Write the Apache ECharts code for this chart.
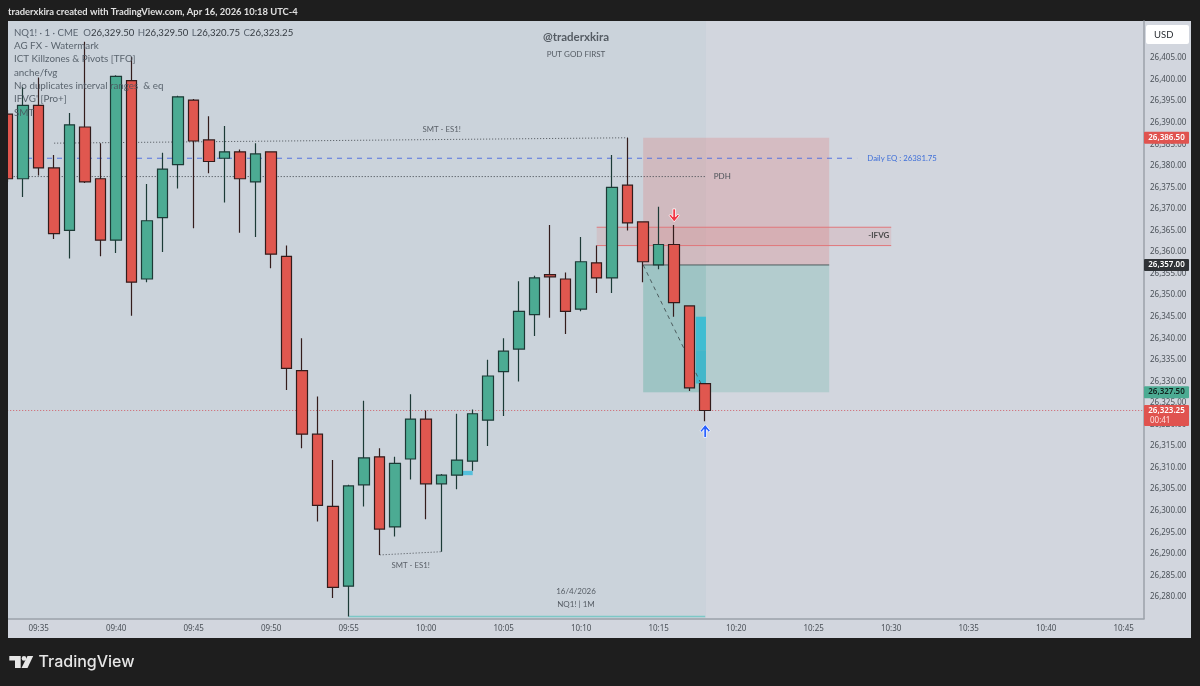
<!DOCTYPE html>
<html>
<head>
<meta charset="utf-8">
<title>NQ1! 1m</title>
<style>
  html, body { margin: 0; padding: 0; background: #1e1e1e; }
  #chart { width: 1200px; height: 686px; }
</style>
<script src="https://cdn.jsdelivr.net/npm/echarts@6/dist/echarts.min.js"></script>
</head>
<body>
<div id="chart"></div>
<script>
// minutes since midnight, 09:33 is the first bar
const firstMinute = 573
// one row per bar, [open, close, low, high]
const opens = [26392, 26377, 26394, 26379.5, 26365, 26389, 26377, 26362.75, 26399.75, 26353.75,
  26368, 26380.25, 26395.25, 26386, 26381.75, 26383.25, 26376.25, 26383.25, 26359, 26332.5,
  26317.75, 26301, 26282.5, 26306, 26312.5, 26296.25, 26312, 26321.25, 26306.25, 26308.25,
  26311.5, 26321, 26332.25, 26337.5, 26345.5, 26354.75, 26353.75, 26346.75, 26357.5, 26354,
  26375.5, 26367, 26357, 26361.75, 26347.5, 26329.5]
const closes = [26377, 26394, 26379.5, 26364.25, 26389.5, 26376.25, 26362.75, 26400.75, 26353, 26367.25,
  26379.25, 26396, 26385.75, 26381, 26383.25, 26377, 26382.75, 26359.5, 26333, 26317.75,
  26301.25, 26282.25, 26305.75, 26312.25, 26295.75, 26311, 26321.25, 26306.25, 26308.25, 26311.75,
  26322.5, 26331.25, 26337, 26346.25, 26354, 26354.25, 26346.25, 26357.75, 26354, 26375,
  26366.75, 26357.75, 26361.75, 26348.25, 26328.5, 26323.25]
const lows = [26376.25, 26372.75, 26377.75, 26363, 26358.5, 26376, 26359, 26359.75, 26345.25, 26353,
  26360, 26374.75, 26365.5, 26378.25, 26371.5, 26364.5, 26363.5, 26356.25, 26328, 26314.5,
  26297.5, 26279.75, 26275.5, 26301, 26289.75, 26294, 26307.25, 26298, 26290.5, 26305,
  26309.25, 26315, 26322, 26330, 26340.5, 26344.75, 26341, 26346.25, 26350.5, 26350.5,
  26365, 26353, 26356, 26345, 26327.75, 26320.75]
const highs = [26393, 26398.25, 26400.5, 26382.5, 26392.25, 26408.75, 26385.25, 26401, 26405.25, 26375.75,
  26383, 26396.25, 26395.5, 26391.5, 26389.25, 26383.75, 26385.25, 26383.25, 26361.5, 26340,
  26326.5, 26311.75, 26306, 26325.5, 26314.5, 26312.5, 26327, 26323.25, 26308.5, 26322.5,
  26323.5, 26335, 26340, 26353.25, 26354.5, 26366.25, 26355.25, 26363.5, 26361.5, 26382.5,
  26386.5, 26367, 26370.5, 26366.25, 26347.5, 26329.5]

const priceTicks = [26280, 26285, 26290, 26295, 26300, 26305, 26310, 26315, 26320, 26325, 26330, 26335,
  26340, 26345, 26350, 26355, 26360, 26365, 26370, 26375, 26380, 26385, 26390, 26395, 26400, 26405]
const timeTicks = [575, 580, 585, 590, 595, 600, 605, 610, 615, 620, 625, 630, 635, 640, 645]

// price tags on the right scale
const tagPrices = [26386.5, 26357, 26327.5, 26323.25]
const tagLabels = ['26,386.50', '26,357.00', '26,327.50', '26,323.25']

// visible range of the axes
const minMinute = 573.02
const maxMinute = 646.31
const minPrice = 26275.01
const maxPrice = 26413.58

// drawings, [minute, price]
const smtTop = [[576, 26385.25], [613, 26386.5]]
const smtBottom = [[597, 26289.75], [601, 26290.5]]
const dailyEq = [[573.6, 26381.75], [627.8, 26381.75]]
const pdh = [[573, 26377.5], [618, 26377.5]]
const entryLine = [[614, 26357], [626, 26357]]
const tradePath = [[614, 26357], [618, 26327.5]]
const lowLine = [[595, 26275.5], [618, 26275.5]]
const lastLine = [[572, 26323.25], [647, 26323.25]]
const ifvgTop = [[611, 26365.75], [630, 26365.75]]
const ifvgBottom = [[611, 26361.5], [630, 26361.5]]
// zones, [from minute, to minute, low price, high price]
const sessionZone = [[minMinute, 618.05, minPrice, maxPrice]]
const stopZone = [[614, 626, 26357, 26386.5]]
const targetZone = [[614, 626, 26327.5, 26357]]
const targetInner = [[614, 618.05, 26327.5, 26357]]
const ifvgZone = [[611, 630, 26361.5, 26365.75]]
const fvgUpper = [[617.4, 618.05, 26337.25, 26345]]
const fvgLower = [[617.4, 618.05, 26329.5, 26337.25]]
const fvgSmall = [[602.35, 603, 26308.25, 26309.25]]
const downArrows = [[616, 26368.5]]
const upArrows = [[618, 26318.5]]

const legendLines = ['AG FX - Watermark', 'ICT Killzones & Pivots [TFO]', 'anche/fvg',
  'No duplicates interval ranges  & eq', "IFVG' [Pro+]", 'SMT']

const FONT = '"Noto Sans", sans-serif'
const TEXT_FONT = 'Lato, sans-serif'
const DARK = '#1e1e1e'
const PANEL = '#d2d6de'
const AXIS_TEXT = '#4b5158'
const UP = '#4cab93'
const DOWN = '#e0574f'
const tagColors = [['#e0534f', '#ffffff'], ['#2f3236', '#ffffff'], ['#4cab93', '#10201c'], ['#e0534f', '#ffffff']]

function pad(n) {
    return (n < 10 ? '0' : '') + n
}

function zoneSeries(rows, fill, z) {
    return {
        type: 'custom',
        silent: true,
        z: z,
        data: rows,
        renderItem: function (params, api) {
            let a = api.coord([api.value(0), api.value(3)])
            let b = api.coord([api.value(1), api.value(2)])
            return {
                type: 'rect',
                shape: {x: a[0], y: a[1], width: b[0] - a[0], height: b[1] - a[1]},
                style: {fill: fill}
            }
        },
        encode: {x: [0, 1], y: [2, 3]}
    }
}

function lineSeries(points, color, width, type, z) {
    return {
        type: 'line',
        silent: true,
        z: z,
        data: points,
        showSymbol: false,
        symbol: 'none',
        lineStyle: {color: color, width: width, type: type}
    }
}

function noteSeries(minute, price, label, color, size, weight) {
    return {
        type: 'custom',
        silent: true,
        z: 6,
        data: [[minute, price]],
        renderItem: function (params, api) {
            let p = api.coord([api.value(0), api.value(1)])
            return {
                type: 'text',
                x: p[0],
                y: p[1],
                style: {
                    text: label, fill: color, align: 'center', verticalAlign: 'middle',
                    font: weight + ' ' + size + 'px ' + TEXT_FONT
                }
            }
        }
    }
}

function arrowSeries(points, symbol, color) {
    return {
        type: 'scatter',
        silent: true,
        z: 7,
        data: points,
        symbol: symbol,
        symbolSize: [10, 13],
        itemStyle: {color: color, borderColor: '#ffffff', borderWidth: 0.8, opacity: 1}
    }
}

// price tags sit on the scale, outside the grid
const tagSeries = {
    type: 'custom',
    silent: true,
    z: 8,
    data: tagPrices.map(function (p) { return [646, p] }),
    renderItem: function (params, api) {
        let i = params.dataIndex
        let y = api.coord([646, api.value(1)])[1]
        let last = i === tagPrices.length - 1
        let children = [{
            type: 'rect',
            shape: {x: 1144, y: last ? y - 5.5 : y - 6, width: 45, height: last ? 21 : 12, r: 1},
            style: {fill: tagColors[i][0]}
        }, {
            type: 'text',
            x: 1166.5,
            y: y,
            style: {
                text: tagLabels[i], fill: tagColors[i][1], align: 'center', verticalAlign: 'middle',
                font: '600 8px ' + FONT
            }
        }]
        if (last) {
            children.push({
                type: 'text',
                x: 1150,
                y: y + 10,
                style: {text: '00:41', fill: '#ffe2e0', align: 'left', verticalAlign: 'middle', font: '8px ' + FONT}
            })
        }
        return {type: 'group', children: children}
    }
}

function overlayText(x, y, text, size, color, align, weight, family) {
    return {
        type: 'text',
        x: x,
        y: y,
        z: 20,
        silent: true,
        style: {
            text: text, fill: color, align: align, verticalAlign: 'middle',
            font: (weight || 400) + ' ' + size + 'px ' + (family || TEXT_FONT)
        }
    }
}

let legendRows = legendLines.map(function (line, i) {
    return overlayText(14, 46 + i * 13.3, line, 9.8, 'rgba(74,84,94,0.88)', 'left')
})

let myChart = echarts.init(document.getElementById('chart'), null, {renderer: 'canvas'})
myChart.setOption({
    animation: false,
    backgroundColor: DARK,
    grid: {
        show: true, left: 8, top: 21, width: 1136, height: 597.5,
        backgroundColor: PANEL, borderWidth: 0
    },
    xAxis: {
        type: 'value',
        min: minMinute,
        max: maxMinute,
        splitLine: {show: false},
        axisTick: {show: false},
        axisLine: {onZero: false, lineStyle: {color: '#9ba1a9', width: 1.5}},
        axisLabel: {
            customValues: timeTicks,
            color: AXIS_TEXT,
            fontSize: 8,
            fontFamily: FONT,
            margin: 6,
            formatter: function (v) {
                return pad(Math.floor(v / 60)) + ':' + pad(Math.round(v % 60))
            }
        }
    },
    yAxis: {
        type: 'value',
        position: 'right',
        min: minPrice,
        max: maxPrice,
        splitLine: {show: false},
        axisTick: {show: false},
        axisLine: {show: true, onZero: false, lineStyle: {color: '#9ba1a9', width: 1.5}},
        axisLabel: {
            customValues: priceTicks,
            color: AXIS_TEXT,
            fontSize: 8,
            fontFamily: FONT,
            margin: 6,
            formatter: function (v) {
                return v.toLocaleString('en-US', {minimumFractionDigits: 2, maximumFractionDigits: 2})
            }
        }
    },
    series: [
        zoneSeries(sessionZone, 'rgba(190,205,215,0.32)', 0),
        zoneSeries(stopZone, 'rgba(222,120,120,0.27)', 1),
        zoneSeries(targetZone, 'rgba(70,170,150,0.22)', 1),
        zoneSeries(targetInner, 'rgba(70,170,150,0.14)', 1),
        zoneSeries(ifvgZone, 'rgba(222,110,110,0.16)', 1),
        lineSeries(ifvgTop, '#e0777a', 1, 'solid', 2),
        lineSeries(ifvgBottom, '#e0777a', 1, 'solid', 2),
        lineSeries(entryLine, '#4c5c5e', 1, 'solid', 2),
        lineSeries(dailyEq, '#5572e0', 1, [5, 5], 2),
        lineSeries(pdh, '#3c4248', 1, [1, 2], 2),
        lineSeries(smtTop, '#4c5258', 1, [1, 2], 2),
        lineSeries(smtBottom, '#4c5258', 1, [1, 2], 2),
        lineSeries(lastLine, '#d0606a', 1, [1, 2], 3),
        lineSeries(lowLine, '#7cc8c6', 1.5, 'solid', 3),
        lineSeries(tradePath, '#4c5c5e', 1, [4, 4], 3),
        zoneSeries(fvgUpper, '#40bdd2', 3),
        zoneSeries(fvgLower, '#43b7ca', 3),
        zoneSeries(fvgSmall, '#55c0dc', 3),
        {
            type: 'candlestick',
            z: 5,
            silent: true,
            barWidth: 11,
            data: opens.map(function (o, i) {
                return [firstMinute + i, o, closes[i], lows[i], highs[i]]
            }),
            encode: {x: 0, y: [1, 2, 3, 4]},
            itemStyle: {
                color: UP,
                color0: DOWN,
                borderColor: '#1c3a36',
                borderColor0: '#331c1c',
                borderColorDoji: '#331c1c',
                borderWidth: 1.2
            }
        },
        noteSeries(601, 26388.5, 'SMT - ES1!', '#5a6068', 7.8, 400),
        noteSeries(599, 26287.4, 'SMT - ES1!', '#5a6068', 7.8, 400),
        noteSeries(630.7, 26381.75, 'Daily EQ : 26381.75', '#3f6fd8', 7.8, 400),
        noteSeries(619.1, 26377.5, 'PDH', '#4c5258', 8, 400),
        noteSeries(629.2, 26363.75, '-IFVG', '#4c4c4c', 8, 700),
        arrowSeries(downArrows, 'path://M3.5 0h3v7l2.5-2.5 1.5 1.5-5.5 5.5-5.5-5.5 1.5-1.5 2.5 2.5z', '#f23645'),
        arrowSeries(upArrows, 'path://M3.5 12h3V5l2.5 2.5 1.5-1.5L5 .5-.5 6 1 7.5 3.5 5z', '#2962ff'),
        tagSeries
    ],
    graphic: [
        {type: 'rect', z: -1, silent: true, shape: {x: 8, y: 21, width: 1183, height: 617}, style: {fill: PANEL}},
        // the first bar is cut by the chart frame
        {type: 'rect', z: 15, silent: true, shape: {x: 0, y: 21, width: 8, height: 617}, style: {fill: DARK}},
        overlayText(8, 11.5, 'traderxkira created with TradingView.com, Apr 16, 2026 10:18 UTC-4', 9.4, '#e0e0e0', 'left', 700),
        {
            type: 'text',
            x: 14,
            y: 33,
            z: 20,
            silent: true,
            style: {
                rich: {
                    g: {fill: '#5a6470', font: '9.6px ' + TEXT_FONT},
                    d: {fill: '#353b42', font: '400 9.6px ' + TEXT_FONT}
                },
                text: '{g|NQ1! · 1 · CME  O}{d|26,329.50} {g|H}{d|26,329.50} {g|L}{d|26,320.75} {g|C}{d|26,323.25}',
                verticalAlign: 'middle'
            }
        }
    ].concat(legendRows, [
        overlayText(576, 37, '@traderxkira', 11.5, '#555c64', 'center', 700),
        overlayText(576, 54, 'PUT GOD FIRST', 8, '#555c64', 'center'),
        overlayText(576, 591, '16/4/2026', 8, '#555c64', 'center'),
        overlayText(576, 604, 'NQ1! | 1M', 8, '#555c64', 'center'),
        {type: 'rect', z: 19, silent: true, shape: {x: 1146, y: 25, width: 43, height: 19, r: 2}, style: {fill: '#ffffff'}},
        overlayText(1154, 34.5, 'USD', 9.5, '#2a2e33', 'left'),
        // TradingView logo
        {type: 'polygon', z: 20, silent: true, shape: {points: [[9.3, 656], [20.7, 656], [20.7, 668], [15, 668], [15, 660.5], [9.3, 660.5]]}, style: {fill: '#e6e6e6'}},
        {type: 'circle', z: 20, silent: true, shape: {cx: 24, cy: 658.4, r: 2.3}, style: {fill: '#e6e6e6'}},
        {type: 'polygon', z: 20, silent: true, shape: {points: [[27.5, 656], [33.2, 656], [27.5, 668], [21.5, 668]]}, style: {fill: '#e6e6e6'}},
        overlayText(38.5, 662, 'TradingView', 16, '#e6e6e6', 'left', 500, 'Inter, sans-serif')
    ])
})
</script>
</body>
</html>
